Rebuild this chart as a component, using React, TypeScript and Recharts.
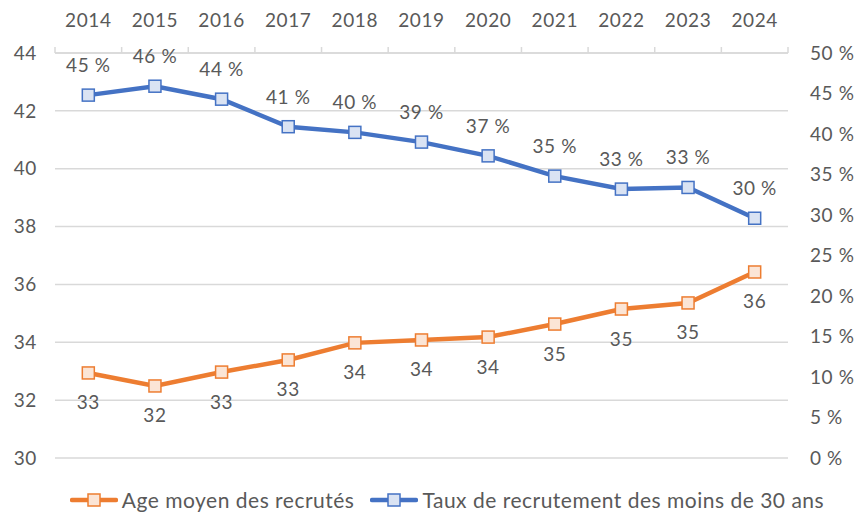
import React from "react";
import {
  LineChart,
  Line,
  XAxis,
  YAxis,
  CartesianGrid,
  LabelList,
  Legend,
} from "recharts";

const years = ["2014", "2015", "2016", "2017", "2018", "2019", "2020", "2021", "2022", "2023", "2024"];
const ageMoyen = [32.94, 32.49, 32.97, 33.39, 33.98, 34.08, 34.18, 34.63, 35.15, 35.36, 36.43];
const tauxMoins30 = [44.8, 45.9, 44.3, 40.9, 40.2, 39.0, 37.3, 34.8, 33.2, 33.4, 29.6];
const leftTicks = [30, 32, 34, 36, 38, 40, 42, 44];
const rightTicks = [0, 5, 10, 15, 20, 25, 30, 35, 40, 45, 50];

const ORANGE = "#ED7D31";
const ORANGE_FILL = "#FBE5D6";
const BLUE = "#4472C4";
const BLUE_FILL = "#DAE3F3";
const TEXT = "#595959";
const GRID = "#D9D9D9";
const FONT = "Lato, 'Open Sans', sans-serif";

const W = 860;
const H = 513;
const LEFT_W = 55;
const RIGHT_W = 72;
const TOP_H = 53;
const BAND = (W - LEFT_W - RIGHT_W) / years.length;

const data = years.map((y, i) => ({
  year: y,
  age: ageMoyen[i],
  taux: tauxMoins30[i],
}));

const SquareDot = (fill: string, stroke: string) => (props: any) => {
  const { cx, cy } = props;
  if (cx == null || cy == null) return null;
  return (
    <rect x={cx - 6} y={cy - 6} width={12} height={12} fill={fill} stroke={stroke} strokeWidth={1.5} />
  );
};

const TopTick = (props: any) => {
  const { x, payload, index } = props;
  return (
    <g>
      <line x1={x - BAND / 2} x2={x - BAND / 2} y1={TOP_H - 6} y2={TOP_H} stroke={GRID} strokeWidth={1.5} />
      {index === years.length - 1 && (
        <line x1={x + BAND / 2} x2={x + BAND / 2} y1={TOP_H - 6} y2={TOP_H} stroke={GRID} strokeWidth={1.5} />
      )}
      <text x={x} y={27} textAnchor="middle" fill={TEXT} fontSize={19} fontFamily={FONT} letterSpacing={0.6}>
        {payload.value}
      </text>
    </g>
  );
};

const LegendContent = () => (
  <div
    style={{
      height: 55,
      display: "flex",
      justifyContent: "center",
      alignItems: "flex-end",
      fontFamily: FONT,
      fontSize: 21,
      letterSpacing: 0.5,
      color: TEXT,
      paddingLeft: 34,
      paddingBottom: 3,
      boxSizing: "border-box",
    }}
  >
    {[
      { name: "Age moyen des recrutés", c: ORANGE, f: ORANGE_FILL },
      { name: "Taux de recrutement des moins de 30 ans", c: BLUE, f: BLUE_FILL },
    ].map((it, i) => (
      <div
        key={it.name}
        style={{ display: "flex", alignItems: "center", marginRight: i === 0 ? 16 : 0, lineHeight: "20px" }}
      >
        <svg width={48} height={14} style={{ marginRight: 4 }}>
          <line x1={2} x2={46} y1={7} y2={7} stroke={it.c} strokeWidth={4.5} strokeLinecap="round" />
          <rect x={18} y={1} width={12} height={12} fill={it.f} stroke={it.c} strokeWidth={1.5} />
        </svg>
        <span>{it.name}</span>
      </div>
    ))}
  </div>
);

export default function App() {
  return (
    <div style={{ position: "absolute", left: 0, top: 0, width: W, height: H, background: "#fff" }}>
      <LineChart width={W} height={H} data={data} margin={{ top: 0, right: 0, bottom: 0, left: 0 }}>
        <CartesianGrid yAxisId="left" vertical={false} stroke={GRID} strokeWidth={1.5} />
        <XAxis
          dataKey="year"
          orientation="top"
          height={TOP_H}
          axisLine={{ stroke: GRID, strokeWidth: 1.5 }}
          tickLine={false}
          tick={<TopTick />}
          padding={{ left: BAND / 2, right: BAND / 2 }}
          interval={0}
        />
        <YAxis
          yAxisId="left"
          domain={[30, 44]}
          ticks={leftTicks}
          width={LEFT_W}
          axisLine={false}
          tickLine={false}
          tickMargin={12}
          tick={{ fill: TEXT, fontSize: 19, fontFamily: FONT, letterSpacing: 0.6 }}
        />
        <YAxis
          yAxisId="right"
          orientation="right"
          domain={[0, 50]}
          ticks={rightTicks}
          width={RIGHT_W}
          axisLine={false}
          tickLine={false}
          tickMargin={16}
          tickFormatter={(v: number) => `${v} %`}
          tick={{ fill: TEXT, fontSize: 19, fontFamily: FONT, letterSpacing: 0.6 }}
        />
        <Legend verticalAlign="bottom" content={<LegendContent />} />
        <Line
          yAxisId="left"
          dataKey="age"
          name="Age moyen des recrutés"
          stroke={ORANGE}
          strokeWidth={4.5}
          dot={SquareDot(ORANGE_FILL, ORANGE)}
          activeDot={false}
          isAnimationActive={false}
        >
          <LabelList
            dataKey="age"
            position="bottom"
            offset={23}
            formatter={(v: number) => Math.round(v)}
            fill={TEXT}
            fontSize={19}
            fontFamily={FONT}
            letterSpacing={0.6}
          />
        </Line>
        <Line
          yAxisId="right"
          dataKey="taux"
          name="Taux de recrutement des moins de 30 ans"
          stroke={BLUE}
          strokeWidth={4.5}
          dot={SquareDot(BLUE_FILL, BLUE)}
          activeDot={false}
          isAnimationActive={false}
        >
          <LabelList
            dataKey="taux"
            position="top"
            offset={23}
            formatter={(v: number) => `${Math.round(v)} %`}
            fill={TEXT}
            fontSize={19}
            fontFamily={FONT}
            letterSpacing={0.6}
          />
        </Line>
      </LineChart>
    </div>
  );
}
